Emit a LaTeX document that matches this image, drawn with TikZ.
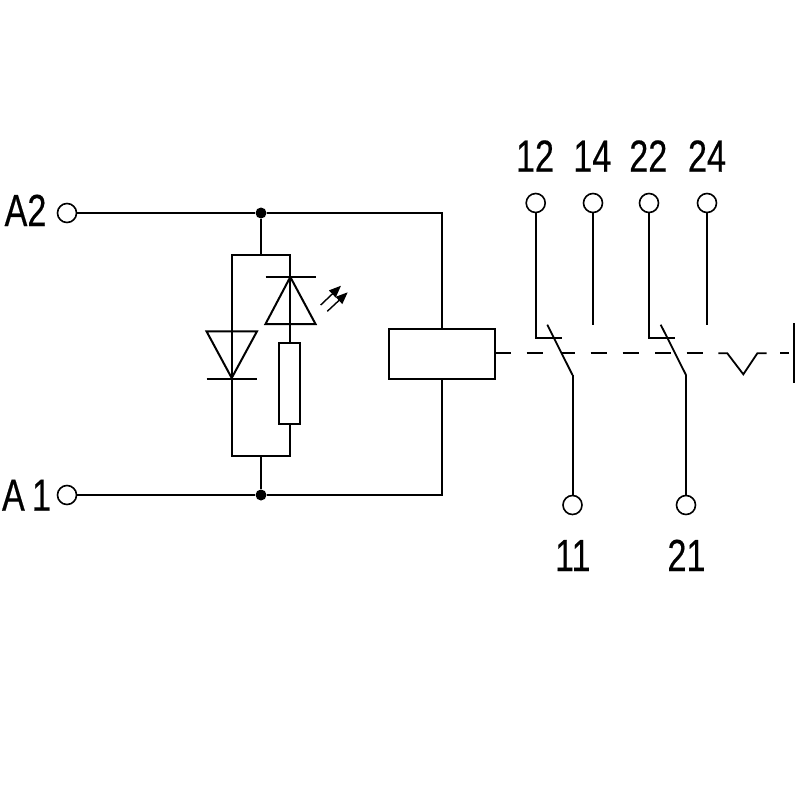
\documentclass[tikz,border=0pt]{standalone}
\usepackage{fontspec}
\setmainfont[FakeStretch=0.76,FakeBold=0.35]{Liberation Sans}
\usetikzlibrary{arrows.meta}
\tikzset{
  wire/.style={draw=black,line width=2pt},
  term/.style={circle,draw=black,line width=1.6pt,fill=white,minimum size=19pt,inner sep=0pt},
  junction/.style={circle,fill=black,draw=none,minimum size=11pt,inner sep=0pt},
  lab/.style={inner sep=0pt,anchor=base,font=\fontsize{45}{45}\selectfont,text=black},
  coilbox/.style={wire,rectangle,inner sep=0pt,minimum width=106pt,minimum height=50pt},
  resbox/.style={wire,rectangle,inner sep=0pt,minimum width=21pt,minimum height=81pt,fill=white},
  mech/.style={draw=black,line width=1.8pt},
  light/.style={draw=black,line width=1.4pt,-{Triangle[length=12pt,width=9.5pt]}}
}
\begin{document}
\begin{tikzpicture}[x=1pt,y=-1pt]
\useasboundingbox (0,0) rectangle (800,800);
% labels
\node[lab] (lA2) at (25.5,226) {A2};
\node[lab] (lA1) at (26.5,510.7) {\spaceskip=0.16em A 1};
\node[lab] (l12) at (535,171.7) {12};
\node[lab] (l14) at (592.3,171.7) {14};
\node[lab] (l22) at (648.3,171.7) {22};
\node[lab] (l24) at (707,171.7) {24};
\node[lab] (l11) at (572.8,571) {11};
\node[lab] (l21) at (686.5,571) {21};
% terminals
\node[term] (tA2) at (67,213) {};
\node[term] (tA1) at (67,495) {};
\node[term] (t12) at (535.7,203) {};
\node[term] (t14) at (593,203) {};
\node[term] (t22) at (649,203) {};
\node[term] (t24) at (707,203) {};
\node[term] (t11) at (572.5,505) {};
\node[term] (t21) at (686,505) {};
% junctions
\node[junction] (jT) at (261,213) {};
\node[junction] (jB) at (261,495) {};
% coil
\node[coilbox] (coil) at (442,353.7) {};
\coordinate (cT) at (442,213);
\coordinate (cB) at (442,495);
\draw[wire] (tA2) -- (jT) -- (cT) -- (cT |- coil.north);
\draw[wire] (tA1) -- (jB) -- (cB) -- (cB |- coil.south);
% parallel branch
\coordinate (bTL) at (231.7,254.7);
\coordinate (bTM) at (261,254.7);
\coordinate (bTR) at (290.3,254.7);
\coordinate (bBL) at (231.7,456);
\coordinate (bBM) at (261,456);
\coordinate (bBR) at (290.3,456);
\draw[wire] (jT) -- (bTM);
\draw[wire] (jB) -- (bBM);
\draw[wire,line cap=rect] (bTL) -- (bTR);
\draw[wire,line cap=rect] (bBL) -- (bBR);
\draw[wire] (bTL) -- (bBL);
% LED + resistor
\node[resbox] (res) at (289.7,383.5) {};
\draw[wire] (bTR) -- (res.north -| bTR);
\draw[wire] (res.south -| bTR) -- (bBR);
\coordinate (ledA) at (290.3,277);
\coordinate (ledL) at (265.5,324);
\coordinate (ledR) at (315.5,324);
\draw[wire,line join=miter] (ledA) -- (ledL) -- (ledR) -- cycle;
\draw[wire] (265.5,276.7) -- (316,276.7);
\draw[light] (320.7,305) -- (341,285.7);
\draw[light] (327.3,311.3) -- (347.7,292.3);
% diode
\coordinate (dA) at (231.7,378);
\draw[wire,line join=miter] (206.5,331.3) -- (257,331.3) -- (dA) -- cycle;
\draw[wire] (206.5,378.7) -- (257,378.7);
% contact 1
\coordinate (s1c) at (535.7,337.7);
\coordinate (s1e) at (562,337.7);
\coordinate (s1k) at (572.5,375);
\draw[wire,line join=miter] (t12) -- (s1c) -- (s1e);
\draw[wire] (t14) -- (593,324.7);
\draw[mech] (547.3,324.7) -- (s1k);
\draw[wire] (s1k) -- (t11);
% contact 2
\coordinate (s2c) at (649,337.7);
\coordinate (s2e) at (675.3,337.7);
\coordinate (s2k) at (686,375);
\draw[wire,line join=miter] (t22) -- (s2c) -- (s2e);
\draw[wire] (t24) -- (707,324.7);
\draw[mech] (660.7,324.7) -- (s2k);
\draw[wire] (s2k) -- (t21);
% mechanical linkage
\foreach \a/\b in {495/511,526.7/542.7,562.3/574.7,590.7/606.7,622.7/639,655/671,686.7/703,780/789}
  \draw[mech] (\a,353.3) -- (\b,353.3);
\draw[mech,line join=miter] (718.3,353.3) -- (727.3,353.3) -- (743.3,374.3) -- (757.3,353.3) -- (766.7,353.3);
\draw[wire] (793.7,323.3) -- (793.7,383.3);
\end{tikzpicture}
\end{document}
